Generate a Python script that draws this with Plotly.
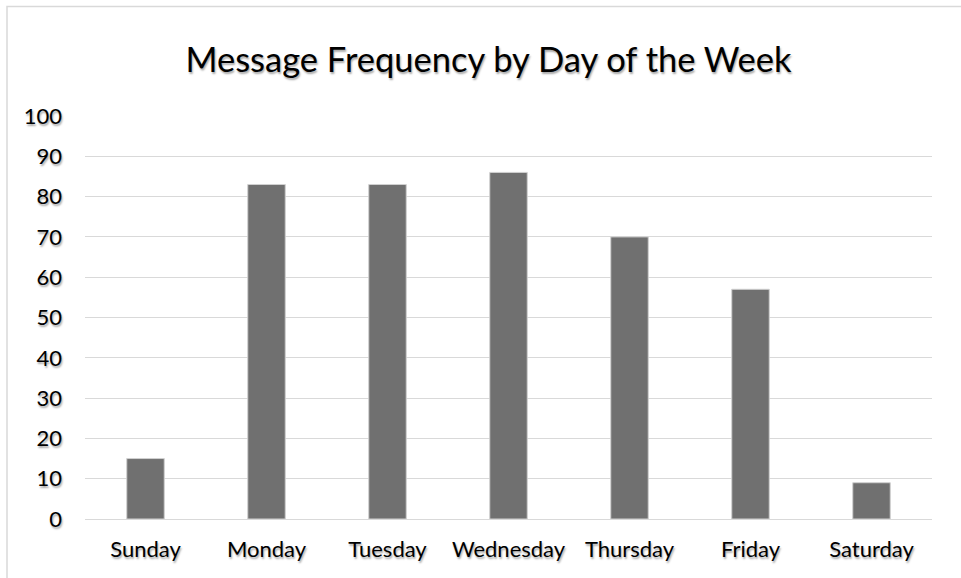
import plotly.graph_objects as go

days = ["Sunday", "Monday", "Tuesday", "Wednesday", "Thursday", "Friday", "Saturday"]
counts = [15, 83, 83, 86, 70, 57, 9]
y_ticks = [0, 10, 20, 30, 40, 50, 60, 70, 80, 90, 100]

W, H = 961, 578
L, R, T, B = 85, 29, 116, 59
pw, ph = W - L - R, H - T - B

shadow = "1px 2px 2px rgba(0,0,0,0.35)"
font_family = "Lato, Open Sans, sans-serif"

fig = go.Figure(go.Bar(
    x=days, y=counts,
    marker=dict(color="#707070", line=dict(color="#d0d0d0", width=1)),
    width=0.31,
))

def px_x(px):
    return (px - L) / pw

def px_y(py):
    return (H - B - py) / ph

fig.update_layout(
    width=W, height=H,
    margin=dict(l=L, r=R, t=T, b=B),
    paper_bgcolor="white", plot_bgcolor="white",
    showlegend=False,
    title=dict(text="Message Frequency by Day of the Week",
               x=488.5 / W, xref="container", xanchor="center",
               y=1 - 60 / H, yanchor="middle",
               font=dict(family=font_family, size=34.5, color="#000000", shadow=shadow)),
    font=dict(family=font_family, color="#000000"),
    xaxis=dict(showgrid=False, showline=True, linecolor="#d9d9d9", linewidth=1,
               ticks="", tickfont=dict(size=22, shadow=shadow), ticklabelstandoff=11),
    yaxis=dict(range=[0, 100], tickvals=y_ticks, showgrid=True, gridcolor="#d9d9d9",
               gridwidth=1, zeroline=False, showline=False, ticks="",
               tickfont=dict(size=22, shadow=shadow), ticklabelstandoff=22),
    shapes=[dict(type="rect", xref="paper", yref="paper",
                 x0=px_x(7), x1=px_x(975), y0=px_y(600), y1=px_y(6.5),
                 line=dict(color="#d9d9d9", width=1.5), layer="below")],
)

fig.write_html("out.html")
